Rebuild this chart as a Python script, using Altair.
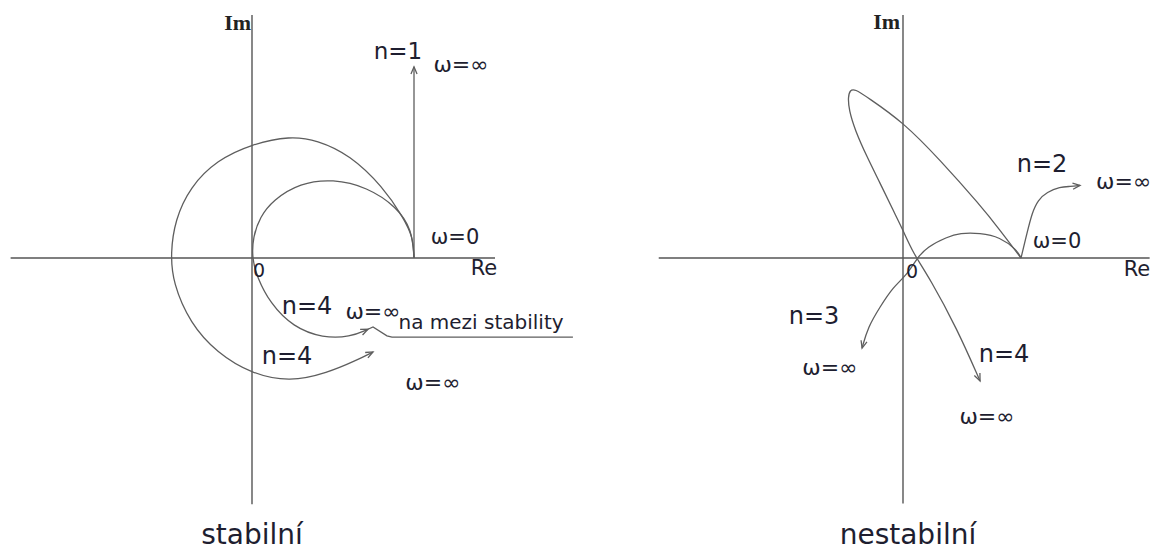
import math
import altair as alt
import pandas as pd

# ---------------- stable system (left diagram) ----------------
# axis extents in Re/Im units (ω=0 point of every curve sits at Re = 1)
L_RE_AXIS = [-1.49, 1.50]
L_IM_AXIS = [-1.52, 1.50]

# n = 1 : straight ray from ω=0 upward
L_N1_RE = [1.0, 1.0]
L_N1_IM = [0.0, 1.18]

# n = 4, stable: encircles the origin
L_N4_RE = [1.0, 0.994, 0.932, 0.809, 0.605, 0.401, 0.235, 0.0, -0.216, -0.383,
           -0.475, -0.503, -0.488, -0.383, -0.216, 0.0, 0.235, 0.463, 0.648, 0.747]
L_N4_IM = [0.0, 0.13, 0.253, 0.438, 0.636, 0.728, 0.753, 0.704, 0.605, 0.438,
           0.235, 0.03, -0.154, -0.401, -0.586, -0.716, -0.765, -0.710, -0.630, -0.580]

# n = 4, on the stability boundary: passes through the origin
L_MB_RE = [1.0, 0.988, 0.895, 0.710, 0.5, 0.296, 0.130, 0.049, 0.006, 0.0,
           0.031, 0.111, 0.253, 0.438, 0.605, 0.716]
L_MB_IM = [0.0, 0.173, 0.315, 0.438, 0.488, 0.463, 0.358, 0.253, 0.13, 0.0,
           -0.117, -0.278, -0.426, -0.494, -0.488, -0.44]

# leader line under "na mezi stability"
L_LEAD_RE = [0.716, 0.747, 0.833, 0.864, 1.981]
L_LEAD_IM = [-0.44, -0.426, -0.481, -0.488, -0.488]

L_TEXT = ["Re", "0", "n=1", "ω=∞", "ω=0", "n=4", "ω=∞", "na mezi stability",
          "n=4", "ω=∞", "stabilní"]
L_TEXT_RE = [1.432, 0.043, 0.901, 1.290, 1.253, 0.340, 0.747, 1.414, 0.216, 1.117, 0.0]
L_TEXT_IM = [-0.068, -0.080, 1.272, 1.191, 0.123, -0.302, -0.333, -0.401, -0.611, -0.772, -1.716]
L_TEXT_SIZE = [21, 19, 23, 22, 21, 24, 22, 20, 24, 22, 28]

L_IM_LABEL = ("Im", -0.006, 1.451)

# ---------------- unstable systems (right diagram) ----------------
R_RE_AXIS = [-2.07, 2.09]
R_IM_AXIS = [-2.08, 2.06]

R_N2_RE = [1.0, 1.051, 1.093, 1.144, 1.220, 1.331, 1.415, 1.5]
R_N2_IM = [0.0, 0.212, 0.381, 0.492, 0.559, 0.602, 0.606, 0.615]

R_N3_RE = [1.0, 0.966, 0.822, 0.653, 0.483, 0.373, 0.203, 0.119, 0.034,
           -0.085, -0.195, -0.297, -0.347]
R_N3_IM = [0.0, 0.068, 0.178, 0.212, 0.212, 0.178, 0.093, 0.0, -0.144,
           -0.246, -0.415, -0.585, -0.763]

R_N4_RE = [1.0, 0.822, 0.653, 0.314, 0.0, -0.305, -0.407, -0.449, -0.466, -0.458,
           -0.407, -0.305, -0.195, -0.085, 0.0, 0.085, 0.229, 0.458, 0.653]
R_N4_IM = [0.0, 0.237, 0.449, 0.831, 1.153, 1.364, 1.432, 1.424, 1.364, 1.254,
           1.085, 0.856, 0.636, 0.407, 0.237, 0.042, -0.175, -0.600, -1.042]

R_TEXT = ["Re", "0", "n=2", "ω=0", "n=3", "ω=∞", "n=4", "ω=∞", "nestabilní"]
R_TEXT_RE = [1.983, 0.076, 1.178, 1.305, -0.754, -0.619, 0.856, 0.712, 0.042]
R_TEXT_IM = [-0.102, -0.119, 0.788, 0.136, -0.500, -0.932, -0.822, -1.347, -2.356]
R_TEXT_SIZE = [21, 19, 24, 21, 24, 22, 24, 22, 28]

R_TEXT_LEFT = ("ω=∞", 1.636, 0.644)
R_IM_LABEL = ("Im", -0.025, 2.0)

LINE_COLOR = "#5e5e5e"
AXIS_COLOR = "#555555"
TEXT_COLOR = "#1e1e30"
FONT = "DejaVu Sans"
ARROW_PATH = "M-1,-0.42L0,0L-1,0.42"


def curves_df(items):
    frames = []
    for name, re, im in items:
        frames.append(pd.DataFrame({"curve": name, "i": list(range(len(re))),
                                    "re": re, "im": im}))
    return pd.concat(frames, ignore_index=True)


def arrows_df(items):
    rows = []
    for re, im in items:
        d_re = re[-1] - re[-2]
        d_im = im[-1] - im[-2]
        angle = math.degrees(math.atan2(-d_im, d_re)) % 360
        rows.append({"re": re[-1], "im": im[-1], "angle": angle})
    return pd.DataFrame(rows)


def panel(width, height, x_dom, y_dom, re_axis, im_axis, smooth, straight,
          arrows, labels, im_label, left_label=None):
    x = alt.X("re:Q", scale=alt.Scale(domain=x_dom, nice=False, zero=False), axis=None)
    y = alt.Y("im:Q", scale=alt.Scale(domain=y_dom, nice=False, zero=False), axis=None)

    axes = pd.DataFrame({"re": [re_axis[0], 0.0], "re2": [re_axis[1], 0.0],
                         "im": [0.0, im_axis[0]], "im2": [0.0, im_axis[1]]})
    axis_layer = alt.Chart(axes).mark_rule(color=AXIS_COLOR, strokeWidth=1.4).encode(
        x=x, x2="re2:Q", y=y, y2="im2:Q")

    smooth_layer = alt.Chart(curves_df(smooth)).mark_line(
        interpolate="basis", color=LINE_COLOR, strokeWidth=1.3).encode(
        x=x, y=y, detail="curve:N", order="i:Q")

    layers = [axis_layer, smooth_layer]

    if straight:
        layers.append(alt.Chart(curves_df(straight)).mark_line(
            color=LINE_COLOR, strokeWidth=1.3).encode(
            x=x, y=y, detail="curve:N", order="i:Q"))

    layers.append(alt.Chart(arrows_df(arrows)).mark_point(
        shape=ARROW_PATH, filled=False, size=210, opacity=1,
        color=LINE_COLOR, strokeWidth=1.3).encode(
        x=x, y=y, angle=alt.Angle("angle:Q", scale=None)))

    text, t_re, t_im, t_size = labels
    tdf = pd.DataFrame({"t": text, "re": t_re, "im": t_im, "s": t_size})
    layers.append(alt.Chart(tdf).mark_text(
        font=FONT, color=TEXT_COLOR, align="center", baseline="middle").encode(
        x=x, y=y, text="t:N", size=alt.Size("s:Q", scale=None)))

    if left_label:
        ldf = pd.DataFrame({"t": [left_label[0]], "re": [left_label[1]], "im": [left_label[2]]})
        layers.append(alt.Chart(ldf).mark_text(
            font=FONT, fontSize=22, color=TEXT_COLOR, align="left",
            baseline="middle", clip=True).encode(x=x, y=y, text="t:N"))

    idf = pd.DataFrame({"t": [im_label[0]], "re": [im_label[1]], "im": [im_label[2]]})
    layers.append(alt.Chart(idf).mark_text(
        font="Liberation Serif", fontWeight="bold", fontSize=22, color="#222222",
        align="right", baseline="middle").encode(x=x, y=y, text="t:N"))

    return alt.layer(*layers).properties(width=width, height=height)


left = panel(
    580, 553,
    [-252 / 162, 328 / 162], [-295 / 162, 258 / 162],
    L_RE_AXIS, L_IM_AXIS,
    smooth=[("n4", L_N4_RE, L_N4_IM), ("mez", L_MB_RE, L_MB_IM)],
    straight=[("n1", L_N1_RE, L_N1_IM), ("lead", L_LEAD_RE, L_LEAD_IM)],
    arrows=[(L_N1_RE, L_N1_IM), (L_N4_RE, L_N4_IM), (L_MB_RE, L_MB_IM)],
    labels=(L_TEXT, L_TEXT_RE, L_TEXT_IM, L_TEXT_SIZE),
    im_label=L_IM_LABEL,
)

right = panel(
    574, 553,
    [-323 / 118, 251 / 118], [-295 / 118, 258 / 118],
    R_RE_AXIS, R_IM_AXIS,
    smooth=[("n2", R_N2_RE, R_N2_IM), ("n3", R_N3_RE, R_N3_IM), ("n4", R_N4_RE, R_N4_IM)],
    straight=[],
    arrows=[(R_N2_RE, R_N2_IM), (R_N3_RE, R_N3_IM), (R_N4_RE, R_N4_IM)],
    labels=(R_TEXT, R_TEXT_RE, R_TEXT_IM, R_TEXT_SIZE),
    im_label=R_IM_LABEL,
    left_label=R_TEXT_LEFT,
)

chart = alt.hconcat(left, right, spacing=0, bounds="flush").properties(
    padding=0, background="white"
).configure_view(strokeWidth=0)

chart.save("out.html", embed_options={"renderer": "svg", "actions": False})
